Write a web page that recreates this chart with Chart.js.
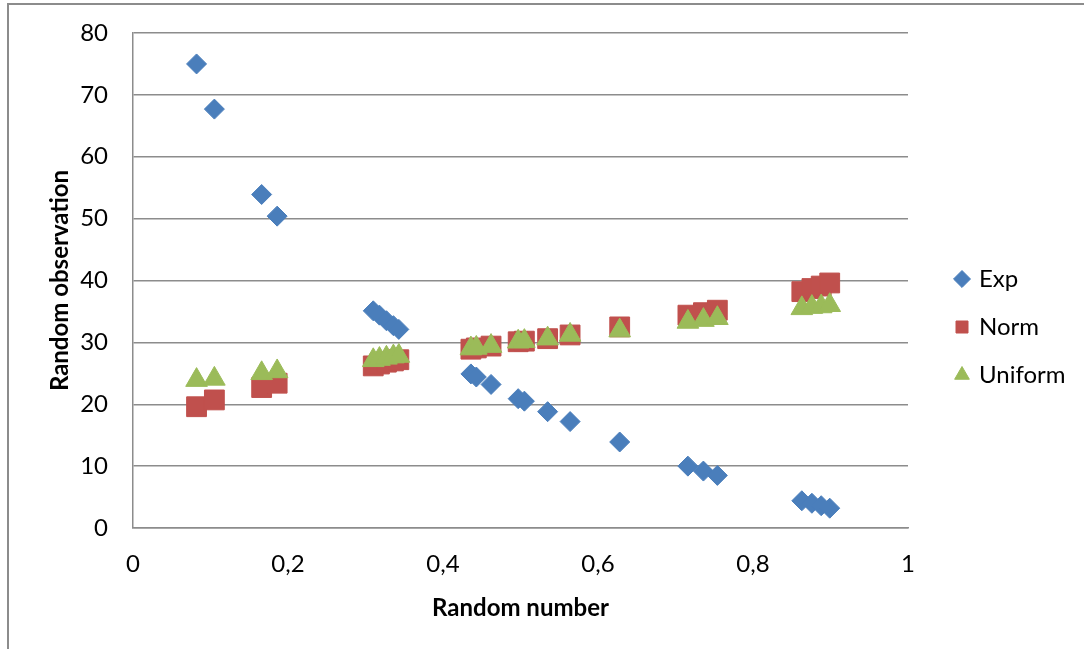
<!DOCTYPE html>
<html>
<head>
<meta charset="utf-8">
<script src="https://cdn.jsdelivr.net/npm/chart.js@4.4.1/dist/chart.umd.min.js"></script>
<style>
  html, body { margin: 0; padding: 0; background: #fff; }
  #wrap { position: relative; width: 1084px; height: 649px; overflow: hidden; }
  #frame { position: absolute; left: 7px; top: 3px; width: 1200px; height: 800px;
           border-left: 2px solid #8c8c8c; border-top: 2px solid #8c8c8c; pointer-events: none; }
</style>
</head>
<body>
<div id="wrap">
  <canvas id="myChart" width="1084" height="649"></canvas>
  <div id="frame"></div>
</div>
<script>
// random numbers (x) shared by the three series
const randNum = [0.082, 0.105, 0.166, 0.186, 0.310, 0.318, 0.327, 0.336, 0.343,
  0.436, 0.443, 0.462, 0.497, 0.505, 0.535, 0.564, 0.628,
  0.716, 0.736, 0.754, 0.863, 0.876, 0.888, 0.899];
const expObs = [75.0, 67.7, 53.9, 50.4, 35.1, 34.4, 33.5, 32.7, 32.1,
  24.9, 24.4, 23.2, 20.9, 20.5, 18.8, 17.2, 13.9,
  10.0, 9.2, 8.5, 4.4, 4.0, 3.6, 3.2];
const normObs = [19.6, 20.7, 22.7, 23.4, 26.2, 26.5, 26.8, 27.0, 27.2,
  28.9, 29.1, 29.4, 30.1, 30.2, 30.6, 31.2, 32.5,
  34.4, 34.8, 35.2, 38.2, 38.7, 39.1, 39.6];
const unifObs = [23.9, 24.1, 25.0, 25.3, 27.1, 27.3, 27.5, 27.7, 27.8,
  29.0, 29.1, 29.4, 30.1, 30.2, 30.6, 31.2, 31.9,
  33.3, 33.6, 33.9, 35.5, 35.7, 35.8, 36.0];
const seriesNames = ["Exp", "Norm", "Uniform"];

const fontFam = "Lato, 'Open Sans', sans-serif";
const fontSize = 24;
const gridCol = "#8c8c8c";

const toPts = (ys) => ys.map((y, i) => ({ x: randNum[i], y: y }));

// legend sits in a fixed 176px column, nudged to where the original has it
const legendBox = {
  id: "legendBox",
  beforeInit(chart) {
    const lg = chart.legend;
    const fit = lg.fit;
    lg.fit = function () { fit.call(this); this.width = 176; };
  },
  afterLayout(chart) {
    const lg = chart.legend;
    lg.left += 25; lg.right += 25;
    lg.top -= 14; lg.bottom -= 14;
  }
};

const ctx = document.getElementById("myChart");
new Chart(ctx, {
  type: "scatter",
  data: {
    datasets: [
      { label: seriesNames[0], data: toPts(expObs), pointStyle: "rectRot", pointRadius: 10,
        backgroundColor: "#4a7ebb", borderColor: "#4a7ebb", borderWidth: 1, order: 3 },
      { label: seriesNames[1], data: toPts(normObs), pointStyle: "rect", pointRadius: 14,
        backgroundColor: "#c0504d", borderColor: "#c0504d", borderWidth: 1, order: 2 },
      { label: seriesNames[2], data: toPts(unifObs), pointStyle: "triangle", pointRadius: 12.5,
        backgroundColor: "#9bbb59", borderColor: "#9bbb59", borderWidth: 1, order: 1 }
    ]
  },
  options: {
    responsive: false,
    animation: false,
    layout: { padding: { top: 33, right: 0, bottom: 0, left: 0 } },
    plugins: {
      tooltip: { enabled: false },
      legend: {
        position: "right",
        labels: {
          usePointStyle: true,
          boxWidth: 10,
          boxHeight: 12,
          padding: 24,
          color: "#000",
          font: { family: fontFam, size: fontSize },
          sort: (a, b) => a.datasetIndex - b.datasetIndex
        }
      }
    },
    scales: {
      x: {
        type: "linear",
        min: 0,
        max: 1,
        ticks: {
          stepSize: 0.2,
          padding: 14,
          color: "#000",
          font: { family: fontFam, size: fontSize },
          callback: (v) => (Math.round(v * 10) / 10).toString().replace(".", ",")
        },
        grid: { display: false },
        border: { display: true, color: gridCol, width: 1.5 },
        title: {
          display: true,
          text: "Random number",
          color: "#000",
          font: { family: fontFam, size: fontSize, weight: "bold" },
          padding: { top: 0, bottom: 26 }
        },
        afterFit: (s) => { s.height = 121; }
      },
      y: {
        min: 0,
        max: 80,
        ticks: {
          stepSize: 10,
          padding: 0,
          color: "#000",
          font: { family: fontFam, size: fontSize }
        },
        // invisible tick marks keep the labels 25px off the axis
        grid: { color: gridCol, lineWidth: 1.5, drawTicks: true, tickLength: 25, tickColor: "rgba(0,0,0,0)" },
        border: { display: true, color: gridCol, width: 1.5 },
        title: {
          display: true,
          text: "Random observation",
          color: "#000",
          font: { family: fontFam, size: fontSize, weight: "bold" },
          padding: { top: 46, bottom: 0 }
        },
        afterFit: (s) => { s.width = 133; }
      }
    }
  },
  plugins: [legendBox]
});
</script>
</body>
</html>
